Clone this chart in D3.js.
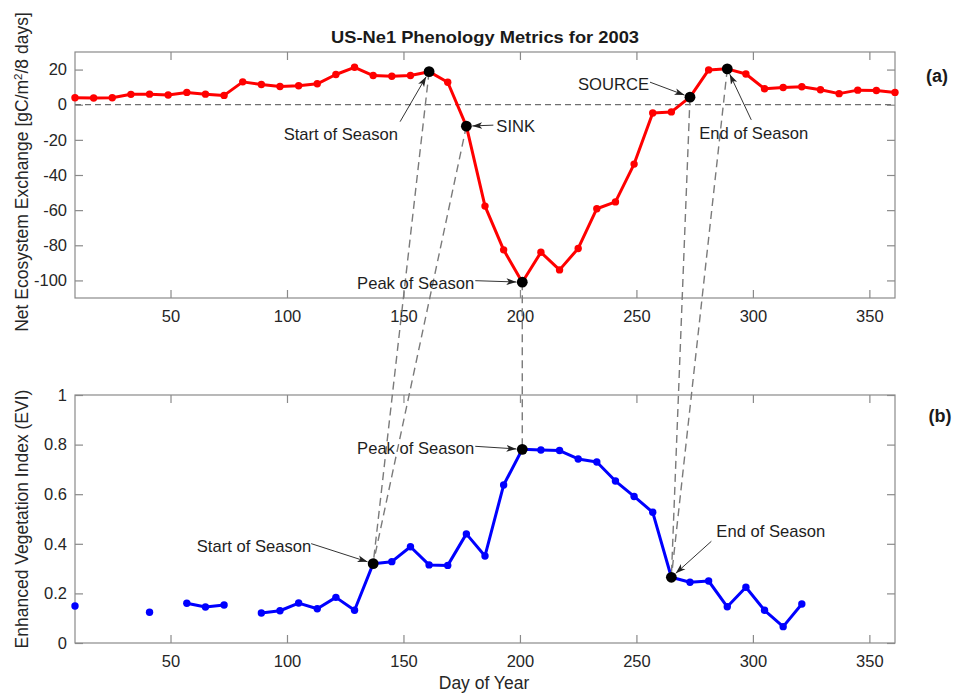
<!DOCTYPE html>
<html>
<head>
<meta charset="utf-8">
<script src="https://cdn.jsdelivr.net/npm/d3@7"></script>
<style>
  body { margin: 0; background: #fff; }
  svg { display: block; font-family: "Liberation Sans", Arial, Helvetica, sans-serif; }
</style>
</head>
<body>
<svg id="chart" width="956" height="695"></svg>
<script>
// ---- data: 8-day composites, US-Ne1, 2003 ----
const days = d3.range(9, 362, 8);           // day of year of each composite (45)

// Net ecosystem exchange, gC/m2/8 days
const nee = [
  4.0, 3.8, 4.0, 5.9, 6.0, 5.5, 7.0, 6.0, 5.3, 13.0,
  11.5, 10.4, 10.8, 11.9, 17.2, 21.3, 16.6, 16.2, 16.6, 18.8,
  12.8, -12.2, -57.7, -82.6, -101.0, -84.0, -94.0, -81.8, -59.2, -55.3,
  -33.8, -4.7, -4.1, 4.3, 19.8, 20.4, 17.5, 9.1, 9.8, 10.2,
  8.5, 6.3, 8.3, 8.1, 7.0
];

// Enhanced vegetation index (null = no valid composite)
const evi = [
  0.149, null, null, null, 0.124, null, 0.160, 0.145, 0.153, null,
  0.121, 0.130, 0.161, 0.138, 0.184, 0.132, 0.320, 0.328, 0.388, 0.315,
  0.313, 0.440, 0.351, 0.637, 0.781, 0.778, 0.776, 0.742, 0.730, 0.653,
  0.591, 0.527, 0.265, 0.245, 0.250, 0.146, 0.225, 0.132, 0.066, 0.157,
  null, null, null, null, null
];

const xTicks   = [50, 100, 150, 200, 250, 300, 350];
const neeTicks = [-100, -80, -60, -40, -20, 0, 20];
const eviTicks = [0, 0.2, 0.4, 0.6, 0.8, 1];

// phenology metrics: label and day of year
const neeMetricNames = ["Start of Season", "SINK", "Peak of Season", "SOURCE", "End of Season"];
const neeMetricDays  = [161, 177, 201, 273, 289];
const eviMetricNames = ["Start of Season", "Peak of Season", "End of Season"];
const eviMetricDays  = [137, 201, 265];

// same event seen in both records: [NEE day, EVI day]
const metricLinks = [[161, 137], [177, 137], [201, 201], [273, 265], [289, 265]];

// ---- layout ----
const W = 956, H = 695;
const left = 75, right = 895;
const topPanel = { y0: 52, y1: 298 };
const botPanel = { y0: 395, y1: 643 };

// callout placement relative to the marked point (px): text offset, anchor, arrow tail offset
const neeCallouts = {
  "Start of Season": { tx: -31, ty: 68,  anchor: "end",   ax: -29, ay: 50 },
  "SINK":            { tx: 30,  ty: 6,   anchor: "start", ax: 27,  ay: -1 },
  "Peak of Season":  { tx: -48, ty: 7,   anchor: "end",   ax: -47, ay: -1.5 },
  "SOURCE":          { tx: -41, ty: -7,  anchor: "end",   ax: -40, ay: -15 },
  "End of Season":   { tx: -28, ty: 70,  anchor: "start", ax: 24,  ay: 51 }
};
const eviCallouts = {
  "Start of Season": { tx: -62, ty: -12, anchor: "end",   ax: -62, ay: -20 },
  "Peak of Season":  { tx: -48, ty: 5,   anchor: "end",   ax: -47, ay: -3 },
  "End of Season":   { tx: 45,  ty: -40, anchor: "start", ax: 40,  ay: -36 }
};

const svg = d3.select("#chart");
svg.append("rect").attr("width", W).attr("height", H).attr("fill", "#fff");

const x = d3.scaleLinear().domain([9, 361]).range([left, right]);
const yNee = d3.scaleLinear().domain([-110, 30]).range([topPanel.y1, topPanel.y0]);
const yEvi = d3.scaleLinear().domain([0, 1]).range([botPanel.y1, botPanel.y0]);

const AX = "#8a8a8a", TXT = "#262626";
const TICK = 8;

svg.append("defs").append("marker")
  .attr("id", "arrowhead")
  .attr("markerUnits", "userSpaceOnUse")
  .attr("markerWidth", 11).attr("markerHeight", 8)
  .attr("refX", 10).attr("refY", 4)
  .attr("orient", "auto")
  .append("path")
  .attr("d", "M0,0.6 L10,4 L0,7.4 L2.6,4 Z")
  .attr("fill", "#222");

function drawAxes(yScale, panel, yTickVals) {
  const g = svg.append("g");
  // box
  g.append("rect")
    .attr("x", left).attr("y", panel.y0)
    .attr("width", right - left).attr("height", panel.y1 - panel.y0)
    .attr("fill", "none").attr("stroke", AX).attr("stroke-width", 1.2);

  const styleAxis = sel => {
    sel.select(".domain").remove();
    sel.selectAll(".tick line").attr("stroke", AX).attr("stroke-width", 1.2);
    sel.selectAll(".tick text").attr("fill", TXT)
      .style("font-size", "16.5px")
      .style("font-family", '"Liberation Sans", Arial, sans-serif');
  };

  g.append("g").attr("transform", `translate(0,${panel.y1})`)
    .call(d3.axisBottom(x).tickValues(xTicks).tickSizeInner(-TICK).tickSizeOuter(0)
      .tickPadding(12).tickFormat(d => String(d)))
    .call(styleAxis);
  g.append("g").attr("transform", `translate(0,${panel.y0})`)
    .call(d3.axisTop(x).tickValues(xTicks).tickSizeInner(-TICK).tickSizeOuter(0).tickFormat(""))
    .call(styleAxis);
  g.append("g").attr("transform", `translate(${left},0)`)
    .call(d3.axisLeft(yScale).tickValues(yTickVals).tickSizeInner(-TICK).tickSizeOuter(0)
      .tickPadding(8).tickFormat(d => String(d)))
    .call(styleAxis);
  g.append("g").attr("transform", `translate(${right},0)`)
    .call(d3.axisRight(yScale).tickValues(yTickVals).tickSizeInner(-TICK).tickSizeOuter(0).tickFormat(""))
    .call(styleAxis);
}

drawAxes(yNee, topPanel, neeTicks);
drawAxes(yEvi, botPanel, eviTicks);

// zero line of the NEE panel
svg.append("line")
  .attr("x1", x(9)).attr("x2", x(361))
  .attr("y1", yNee(0)).attr("y2", yNee(0))
  .attr("stroke", "#6e6e6e").attr("stroke-width", 1.3)
  .attr("stroke-dasharray", "6,4");

// ---- series ----
const neePts = days.map((d, i) => ({ day: d, v: nee[i] }));
const eviPts = days.map((d, i) => ({ day: d, v: evi[i] }));

const lineNee = d3.line().x(d => x(d.day)).y(d => yNee(d.v));
const lineEvi = d3.line().defined(d => d.v !== null).x(d => x(d.day)).y(d => yEvi(d.v));

svg.append("path").datum(neePts)
  .attr("d", lineNee).attr("fill", "none")
  .attr("stroke", "#ff0000").attr("stroke-width", 3).attr("stroke-linejoin", "round");
svg.append("g").selectAll("circle").data(neePts).join("circle")
  .attr("cx", d => x(d.day)).attr("cy", d => yNee(d.v)).attr("r", 3.7).attr("fill", "#ff0000");

svg.append("path").datum(eviPts)
  .attr("d", lineEvi).attr("fill", "none")
  .attr("stroke", "#0000ff").attr("stroke-width", 3).attr("stroke-linejoin", "round");
svg.append("g").selectAll("circle").data(eviPts.filter(d => d.v !== null)).join("circle")
  .attr("cx", d => x(d.day)).attr("cy", d => yEvi(d.v)).attr("r", 3.7).attr("fill", "#0000ff");

// ---- metric points ----
const neeAt = day => nee[days.indexOf(day)];
const eviAt = day => evi[days.indexOf(day)];

// dashed connectors between the two records
svg.append("g").selectAll("line").data(metricLinks).join("line")
  .attr("x1", d => x(d[0])).attr("y1", d => yNee(neeAt(d[0])))
  .attr("x2", d => x(d[1])).attr("y2", d => yEvi(eviAt(d[1])))
  .attr("stroke", "#7a7a7a").attr("stroke-width", 1.4)
  .attr("stroke-dasharray", "8,5");

const R = 5.4;
function drawMetrics(names, mDays, valueAt, yScale, callouts) {
  const pts = names.map((n, i) => ({ name: n, day: mDays[i], v: valueAt(mDays[i]) }));
  const g = svg.append("g");
  pts.forEach(p => {
    const cx = x(p.day), cy = yScale(p.v);
    const c = callouts[p.name];
    const sx = cx + c.ax, sy = cy + c.ay;
    const dx = cx - sx, dy = cy - sy, len = Math.hypot(dx, dy);
    const ex = cx - dx / len * (R + 0.5), ey = cy - dy / len * (R + 0.5);
    g.append("line")
      .attr("x1", sx).attr("y1", sy).attr("x2", ex).attr("y2", ey)
      .attr("stroke", "#333").attr("stroke-width", 1)
      .attr("marker-end", "url(#arrowhead)");
    g.append("text")
      .attr("x", cx + c.tx).attr("y", cy + c.ty)
      .attr("text-anchor", c.anchor)
      .attr("fill", "#1e1e1e")
      .style("font-size", "16.6px")
      .text(p.name);
  });
  g.selectAll("circle").data(pts).join("circle")
    .attr("cx", d => x(d.day)).attr("cy", d => yScale(d.v))
    .attr("r", R).attr("fill", "#000");
}

drawMetrics(neeMetricNames, neeMetricDays, neeAt, yNee, neeCallouts);
drawMetrics(eviMetricNames, eviMetricDays, eviAt, yEvi, eviCallouts);

// ---- titles and labels ----
svg.append("text")
  .attr("x", (left + right) / 2).attr("y", 42.5)
  .attr("text-anchor", "middle")
  .attr("textLength", 308).attr("lengthAdjust", "spacingAndGlyphs")
  .style("font-weight", "bold").style("font-size", "17px").attr("fill", "#1a1a1a")
  .text("US-Ne1 Phenology Metrics for 2003");

svg.append("text")
  .attr("x", (left + right) / 2 - 1).attr("y", 689)
  .attr("text-anchor", "middle").attr("fill", TXT)
  .style("font-size", "17.5px")
  .text("Day of Year");

const yl1 = svg.append("text")
  .attr("transform", `translate(28,${(topPanel.y0 + topPanel.y1) / 2 - 3}) rotate(-90)`)
  .attr("text-anchor", "middle").attr("fill", TXT)
  .style("font-size", "17.5px");
yl1.append("tspan").text("Net Ecosystem Exchange [gC/m");
yl1.append("tspan").attr("dy", -6).style("font-size", "11.5px").text("2");
yl1.append("tspan").attr("dy", 6).text("/8 days]");

svg.append("text")
  .attr("transform", `translate(28,${(botPanel.y0 + botPanel.y1) / 2})  rotate(-90)`)
  .attr("text-anchor", "middle").attr("fill", TXT)
  .style("font-size", "17.5px")
  .text("Enhanced Vegetation Index (EVI)");

svg.append("text").attr("x", 937).attr("y", 82)
  .attr("text-anchor", "middle").style("font-weight", "bold").style("font-size", "18px")
  .attr("fill", "#1a1a1a").text("(a)");
svg.append("text").attr("x", 940).attr("y", 422)
  .attr("text-anchor", "middle").style("font-weight", "bold").style("font-size", "18px")
  .attr("fill", "#1a1a1a").text("(b)");
</script>
</body>
</html>
